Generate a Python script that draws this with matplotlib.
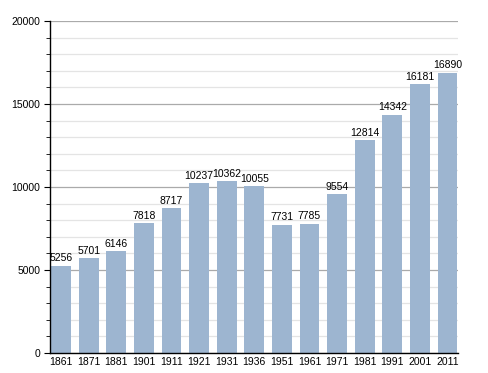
import matplotlib
matplotlib.use('Agg')
import matplotlib.pyplot as plt
from matplotlib.ticker import MultipleLocator

years = ['1861', '1871', '1881', '1901', '1911', '1921', '1931', '1936',
         '1951', '1961', '1971', '1981', '1991', '2001', '2011']
population = [5256, 5701, 6146, 7818, 8717, 10237, 10362, 10055,
              7731, 7785, 9554, 12814, 14342, 16181, 16890]

plt.rcParams['font.family'] = ['Liberation Sans', 'DejaVu Sans']

fig = plt.figure(figsize=(4.88, 3.73), dpi=100)
ax = fig.add_axes([0.1025, 0.0536, 0.836, 0.89])

x = range(len(years))
ax.set_axisbelow(True)
ax.yaxis.set_major_locator(MultipleLocator(5000))
ax.yaxis.set_minor_locator(MultipleLocator(1000))
ax.grid(axis='y', which='major', color='#aaaaaa', linewidth=0.9)
ax.grid(axis='y', which='minor', color='#e4e4e4', linewidth=0.9)

bars = ax.bar(x, population, width=0.72, color='#9db5d0', edgecolor='none')
for i, v in zip(x, population):
    ax.text(i, v + 150, str(v), ha='center', va='bottom', fontsize=7.5)

ax.set_xlim(-0.4, 14.38)
ax.set_ylim(0, 20000)
ax.set_xticks(list(x))
ax.set_xticklabels(years)
ax.tick_params(axis='x', length=0, labelsize=7.5, pad=3)
ax.tick_params(axis='y', which='major', length=4, labelsize=7.5, pad=3)
ax.tick_params(axis='y', which='minor', length=3)

for s in ['top', 'right']:
    ax.spines[s].set_visible(False)
ax.spines['left'].set_linewidth(1.0)
ax.spines['bottom'].set_linewidth(1.0)

fig.savefig('out.png', dpi=100)
